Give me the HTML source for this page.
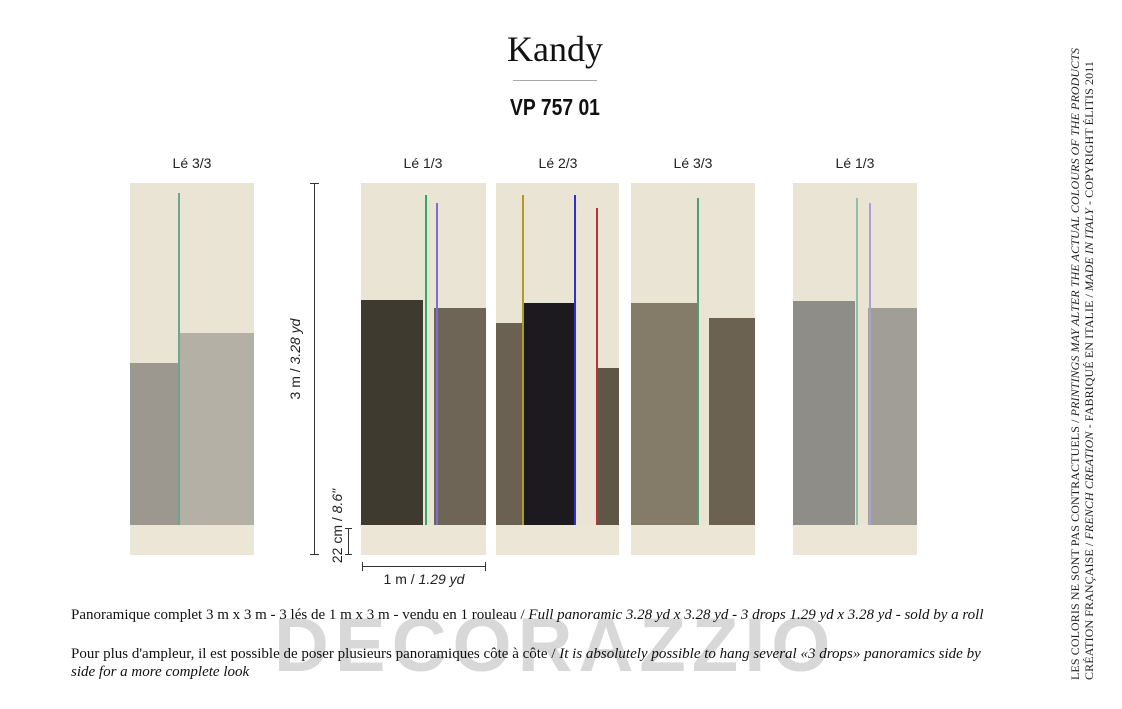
<!DOCTYPE html><html><head><style>
body{margin:0;width:1122px;height:709px;background:#fff;position:relative;overflow:hidden;font-family:"Liberation Sans",sans-serif}
.a{position:absolute}
.p{position:absolute;top:183px;height:372px;background:#e9e4d3;overflow:hidden}
.p div{position:absolute}
.lbl{position:absolute;top:155px;font-size:14px;color:#222;width:124px;text-align:center;font-family:"Liberation Sans Narrow","Liberation Sans",sans-serif}
.bot{left:0;right:0;top:342px;height:30px;background:#ebe6d6}
.serif{font-family:"Liberation Serif",serif}
</style></head><body>
<div class="a" style="left:0;width:1110px;top:28px;text-align:center;font-family:'Liberation Serif',serif;font-size:36px;color:#111">Kandy</div>
<div class="a" style="left:513px;top:80px;width:84px;height:1px;background:#aaa"></div>
<div class="a" style="left:0;width:1110px;top:94px;text-align:center;font-size:23px;font-weight:bold;color:#111;transform:scaleX(0.84)">VP 757 01</div>

<div class="lbl" style="left:130px">Lé 3/3</div>
<div class="lbl" style="left:361px">Lé 1/3</div>
<div class="lbl" style="left:496px">Lé 2/3</div>
<div class="lbl" style="left:631px">Lé 3/3</div>
<div class="lbl" style="left:793px">Lé 1/3</div>

<div class="p" style="left:130px;width:124px">
<div style="left:0;width:50px;top:180px;height:162px;background:#9c988f"></div>
<div style="left:50px;width:74px;top:150px;height:192px;background:#b5b0a6"></div>
<div style="left:48px;top:10px;width:2px;height:355px;background:#6fa58f"></div>
<div class="bot"></div></div>

<div class="p" style="left:361px;width:125px">
<div style="left:0;width:62px;top:117px;height:225px;background:#3f3a30"></div>
<div style="left:73px;width:52px;top:125px;height:217px;background:#6e6556"></div>
<div style="left:64px;top:12px;width:2px;height:350px;background:#2fa86a"></div>
<div style="left:75px;top:20px;width:2px;height:340px;background:#7a70d0"></div>
<div class="bot"></div></div>

<div class="p" style="left:496px;width:123px">
<div style="left:0;width:27px;top:140px;height:202px;background:#6a6152"></div>
<div style="left:27px;width:52px;top:120px;height:222px;background:#1c1a1f"></div>
<div style="left:101px;width:22px;top:185px;height:157px;background:#5e5647"></div>
<div style="left:26px;top:12px;width:2px;height:350px;background:#b09a20"></div>
<div style="left:78px;top:12px;width:2px;height:345px;background:#3030d0"></div>
<div style="left:100px;top:25px;width:2px;height:335px;background:#c03030"></div>
<div class="bot"></div></div>

<div class="p" style="left:631px;width:124px">
<div style="left:0;width:66px;top:120px;height:222px;background:#857b69"></div>
<div style="left:78px;width:46px;top:135px;height:207px;background:#6b6252"></div>
<div style="left:66px;top:15px;width:2px;height:345px;background:#4aa07a"></div>
<div class="bot"></div></div>

<div class="p" style="left:793px;width:124px">
<div style="left:0;width:62px;top:118px;height:224px;background:#8f8d88"></div>
<div style="left:75px;width:49px;top:125px;height:217px;background:#a19e97"></div>
<div style="left:63px;top:15px;width:2px;height:345px;background:#8fc0a8"></div>
<div style="left:76px;top:20px;width:2px;height:340px;background:#a9a0d8"></div>
<div class="bot"></div></div>

<div class="a" style="left:314px;top:183px;width:1px;height:372px;background:#333"></div>
<div class="a" style="left:310px;top:183px;width:9px;height:1px;background:#333"></div>
<div class="a" style="left:310px;top:554px;width:9px;height:1px;background:#333"></div>
<div class="a" style="left:348px;top:528px;width:1px;height:26px;background:#333"></div>
<div class="a" style="left:345px;top:528px;width:7px;height:1px;background:#333"></div>
<div class="a" style="left:345px;top:554px;width:7px;height:1px;background:#333"></div>
<div class="a" style="left:230px;top:351px;width:130px;text-align:center;transform:rotate(-90deg);font-size:14px;color:#222">3 m / <i>3.28 yd</i></div>
<div class="a" style="left:277px;top:518px;width:120px;text-align:center;transform:rotate(-90deg);font-size:14px;color:#222">22 cm / <i>8.6"</i></div>
<div class="a" style="left:362px;top:566px;width:124px;height:1px;background:#333"></div>
<div class="a" style="left:362px;top:562px;width:1px;height:9px;background:#333"></div>
<div class="a" style="left:485px;top:562px;width:1px;height:9px;background:#333"></div>
<div class="a" style="left:362px;top:571px;width:124px;text-align:center;font-size:14px;color:#222">1 m / <i>1.29 yd</i></div>

<div class="a" style="left:274px;top:606px;font-size:76px;font-weight:bold;color:#d8d8d8;letter-spacing:6px;line-height:80px">DECORAZZIO</div>

<div class="a serif" style="left:71px;top:607px;font-size:15px;color:#111;white-space:nowrap">Panoramique complet 3 m x 3 m - 3 lés de 1 m x 3 m - vendu en 1 rouleau / <i>Full panoramic 3.28 yd x 3.28 yd - 3 drops 1.29 yd x 3.28 yd - sold by a roll</i></div>
<div class="a serif" style="left:71px;top:645px;width:935px;font-size:15px;line-height:18px;color:#111">Pour plus d'ampleur, il est possible de poser plusieurs panoramiques côte à côte / <i>It is absolutely possible to hang several «3 drops» panoramics side by side for a more complete look</i></div>

<div class="a serif" style="left:1082px;top:30px;width:0;height:0">
<div style="position:absolute;left:0;top:0;transform-origin:0 0;transform:rotate(-90deg) translate(-650px,-14px);width:650px;font-size:12px;line-height:14px;color:#222;white-space:nowrap;letter-spacing:0.1px">LES COLORIS NE SONT PAS CONTRACTUELS / <i>PRINTINGS MAY ALTER THE ACTUAL COLOURS OF THE PRODUCTS</i><br>CRÉATION FRANÇAISE / <i>FRENCH CREATION</i> - FABRIQUÉ EN ITALIE / <i>MADE IN ITALY</i> - COPYRIGHT ÉLITIS 2011</div></div>
</body></html>
